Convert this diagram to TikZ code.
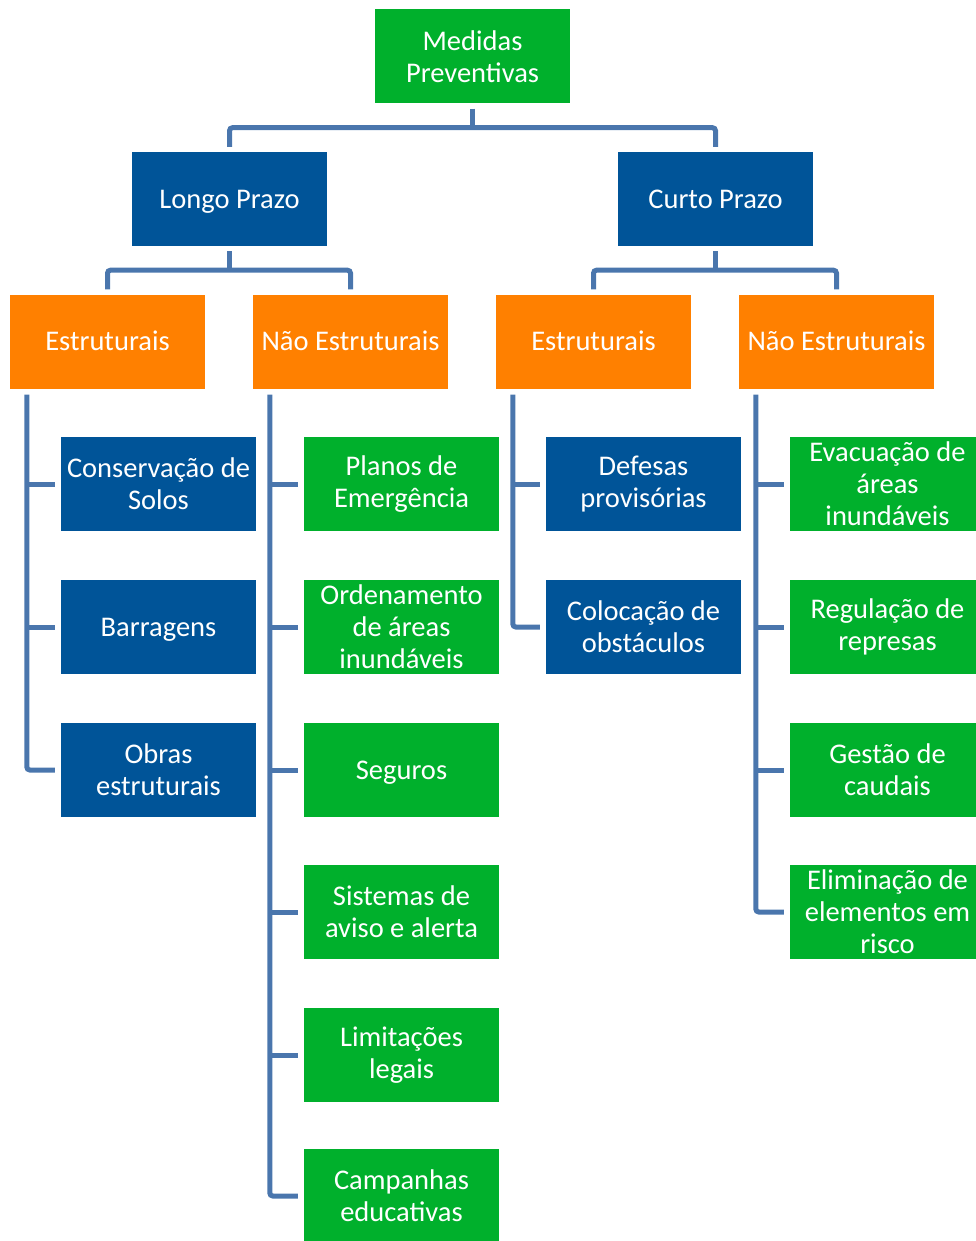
\documentclass[tikz,border=0pt]{standalone}
\usepackage{fontspec}
\setmainfont{Carlito}
\definecolor{cgreen}{RGB}{0,176,44}
\definecolor{cblue}{RGB}{0,84,152}
\definecolor{corange}{RGB}{255,128,0}
\definecolor{cline}{RGB}{74,118,173}
\tikzset{
  box/.style={minimum width=195pt,minimum height=94pt,inner sep=0pt,align=center,text=white,font=\fontsize{28.5}{32}\selectfont},
  gbox/.style={box,fill=cgreen},
  bbox/.style={box,fill=cblue},
  obox/.style={box,fill=corange},
  oneline/.style={text height=18.4pt,text depth=0pt},
  conn/.style={draw=cline,line width=5pt,rounded corners=3pt}
}
\begin{document}
\begin{tikzpicture}[x=1pt,y=-1pt]
\useasboundingbox (0,0) rectangle (976,1241);
\clip (0,0) rectangle (976,1241);
% level 1
\node[gbox] (top) at (472.5,56.5) {Medidas\\Preventivas};
% level 2
\node[bbox,oneline] (lp) at (229.5,199) {Longo Prazo};
\node[bbox,oneline] (cp) at (715.5,199) {Curto Prazo};
% level 3
\node[obox,oneline] (e1) at (107.5,341.5) {Estruturais};
\node[obox,oneline] (n1) at (350.5,341.5) {Não Estruturais};
\node[obox,oneline] (e2) at (593.5,341.5) {Estruturais};
\node[obox,oneline] (n2) at (836.5,341.5) {Não Estruturais};
% column 1
\node[bbox] (a1) at (158.5,484) {Conservação de\\Solos};
\node[bbox,oneline] (a2) at (158.5,627) {Barragens};
\node[bbox] (a3) at (158.5,770) {Obras\\estruturais};
% column 2
\node[gbox] (b1) at (401.5,484) {Planos de\\Emergência};
\node[gbox] (b2) at (401.5,627) {Ordenamento\\de áreas\\inundáveis};
\node[gbox,oneline] (b3) at (401.5,770) {Seguros};
\node[gbox] (b4) at (401.5,912) {Sistemas de\\aviso e alerta};
\node[gbox] (b5) at (401.5,1055) {Limitações\\legais};
\node[gbox] (b6) at (401.5,1196) {Campanhas\\educativas};
% column 3
\node[bbox] (c1) at (643.5,484) {Defesas\\provisórias};
\node[bbox] (c2) at (643.5,627) {Colocação de\\obstáculos};
% column 4
\node[gbox] (d1) at (887.5,484) {Evacuação de\\áreas\\inundáveis};
\node[gbox] (d2) at (887.5,627) {Regulação de\\represas};
\node[gbox] (d3) at (887.5,770) {Gestão de\\caudais};
\node[gbox] (d4) at (887.5,912) {Eliminação de\\elementos em\\risco};
% connectors level 1 -> 2
\draw[conn] ([yshift=-5pt]top.south) -- ++(0,19) coordinate (t1);
\draw[conn] ([yshift=5pt]lp.north) |- (t1) -| ([yshift=5pt]cp.north);
% level 2 -> 3
\draw[conn] ([yshift=-5pt]lp.south) -- ++(0,19) coordinate (l1);
\draw[conn] ([yshift=5pt]e1.north) |- (l1) -| ([yshift=5pt]n1.north);
\draw[conn] ([yshift=-5pt]cp.south) -- ++(0,19) coordinate (r1);
\draw[conn] ([yshift=5pt]e2.north) |- (r1) -| ([yshift=5pt]n2.north);
% column spines
\draw[conn] ([xshift=17pt,yshift=-6pt]e1.south west) |- ([xshift=-6pt]a3.west);
\draw[conn] ([xshift=17pt]e1.south west |- a1.west) -- ([xshift=-6pt]a1.west);
\draw[conn] ([xshift=17pt]e1.south west |- a2.west) -- ([xshift=-6pt]a2.west);
\draw[conn] ([xshift=17pt,yshift=-6pt]n1.south west) |- ([xshift=-6pt]b6.west);
\foreach \b in {b1,b2,b3,b4,b5}{
  \draw[conn] ([xshift=17pt]n1.south west |- \b.west) -- ([xshift=-6pt]\b.west);
}
\draw[conn] ([xshift=17pt,yshift=-6pt]e2.south west) |- ([xshift=-6pt]c2.west);
\draw[conn] ([xshift=17pt]e2.south west |- c1.west) -- ([xshift=-6pt]c1.west);
\draw[conn] ([xshift=17pt,yshift=-6pt]n2.south west) |- ([xshift=-6pt]d4.west);
\foreach \d in {d1,d2,d3}{
  \draw[conn] ([xshift=17pt]n2.south west |- \d.west) -- ([xshift=-6pt]\d.west);
}
\end{tikzpicture}
\end{document}
